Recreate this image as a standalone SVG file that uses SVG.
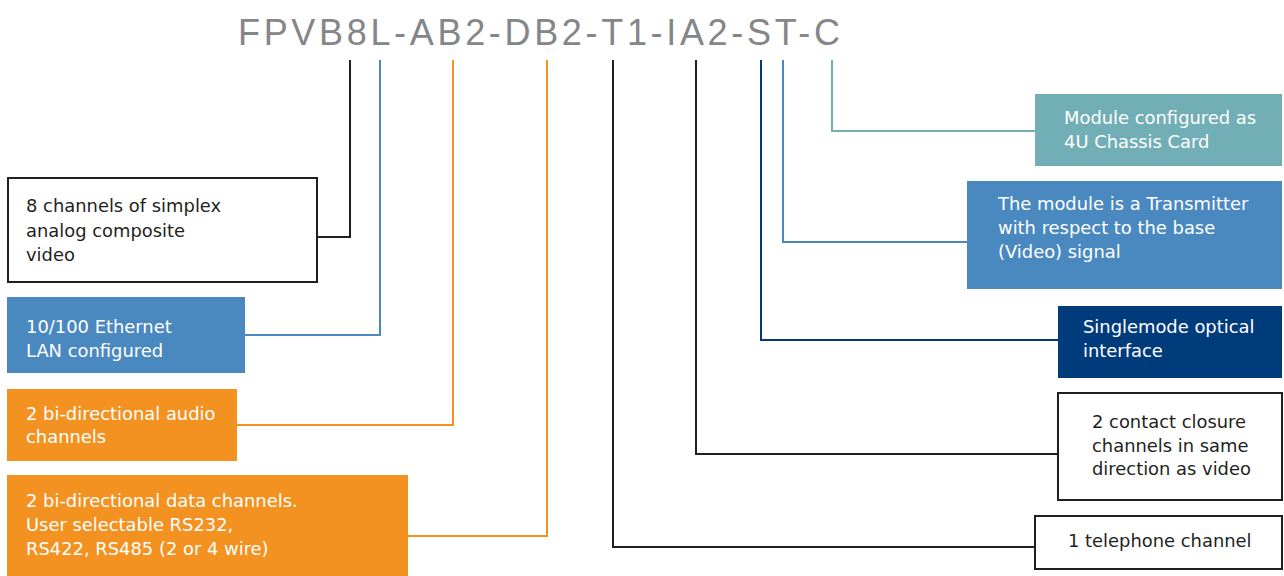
<svg xmlns="http://www.w3.org/2000/svg" width="1284" height="576" viewBox="0 0 1284 576">
<style>
text{font-family:"DejaVu Sans","Liberation Sans",Arial,sans-serif;font-size:17.9px}
.w{fill:#ffffff}
.k{fill:#231f20}
.ob{fill:#ffffff;stroke:#231f20;stroke-width:2}
.c{fill:none;stroke-width:2}
</style>
<rect width="1284" height="576" fill="#ffffff"/>
<text id="title" x="238" y="45" textLength="602" lengthAdjust="spacing" style="font-family:'Liberation Sans',Arial,sans-serif;font-size:36px;fill:#848688">FPVB8L-AB2-DB2-T1-IA2-ST-C</text>
<g id="connectors">
<polyline class="c" stroke="#231f20" points="350,60 350,237 317,237"/>
<polyline class="c" stroke="#4a89c0" points="380,60 380,335 245,335"/>
<polyline class="c" stroke="#f39221" points="453,60 453,425 237,425"/>
<polyline class="c" stroke="#f39221" points="547,60 547,536 408,536"/>
<polyline class="c" stroke="#231f20" points="613,60 613,547 1034,547"/>
<polyline class="c" stroke="#231f20" points="696,60 696,454 1057,454"/>
<polyline class="c" stroke="#003c7c" points="761,60 761,340 1058,340"/>
<polyline class="c" stroke="#4a89c0" points="783,60 783,242 967,242"/>
<polyline class="c" stroke="#72aeb6" points="832,60 832,131 1035,131"/>
</g>
<g id="video">
<rect class="ob" x="8" y="178" width="309" height="104"/>
<text class="k" x="26" y="212">8 channels of simplex</text>
<text class="k" x="26" y="237">analog composite</text>
<text class="k" x="26" y="261">video</text>
</g>
<g id="ethernet">
<rect x="7" y="297" width="238" height="76" fill="#4a89c0"/>
<text class="w" x="26" y="333">10/100 Ethernet</text>
<text class="w" x="26" y="357">LAN configured</text>
</g>
<g id="audio">
<rect x="7" y="389" width="230" height="72" fill="#f39221"/>
<text class="w" x="26" y="420">2 bi-directional audio</text>
<text class="w" x="26" y="443">channels</text>
</g>
<g id="data">
<rect x="7" y="475" width="401" height="101" fill="#f39221"/>
<text class="w" x="26" y="507">2 bi-directional data channels.</text>
<text class="w" x="26" y="531">User selectable RS232,</text>
<text class="w" x="26" y="555">RS422, RS485 (2 or 4 wire)</text>
</g>
<g id="chassis">
<rect x="1035" y="94" width="247" height="72" fill="#72aeb6"/>
<text class="w" x="1064" y="124">Module configured as</text>
<text class="w" x="1064" y="148">4U Chassis Card</text>
</g>
<g id="transmitter">
<rect x="967" y="181" width="315" height="108" fill="#4a89c0"/>
<text class="w" x="998" y="210">The module is a Transmitter</text>
<text class="w" x="998" y="234">with respect to the base</text>
<text class="w" x="998" y="258">(Video) signal</text>
</g>
<g id="singlemode">
<rect x="1058" y="306" width="224" height="72" fill="#003c7c"/>
<text class="w" x="1083" y="333">Singlemode optical</text>
<text class="w" x="1083" y="357">interface</text>
</g>
<g id="contact">
<rect class="ob" x="1058" y="393" width="224" height="107"/>
<text class="k" x="1092" y="428">2 contact closure</text>
<text class="k" x="1092" y="452">channels in same</text>
<text class="k" x="1092" y="475">direction as video</text>
</g>
<g id="telephone">
<rect class="ob" x="1035" y="516" width="247" height="53"/>
<text class="k" x="1068" y="547">1 telephone channel</text>
</g>
</svg>
